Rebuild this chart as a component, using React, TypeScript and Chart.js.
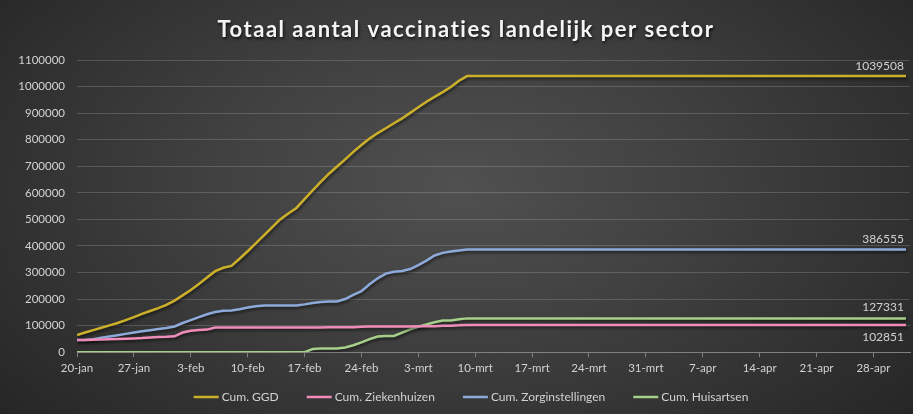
import React, { useEffect, useRef } from 'react';
import { Chart, registerables } from 'chart.js';

Chart.register(...registerables);

const chartTitle = 'Totaal aantal vaccinaties landelijk per sector';

// Week tick labels (one every 7 days, starting 20-jan)
const weekLabels = ['20-jan', '27-jan', '3-feb', '10-feb', '17-feb', '24-feb', '3-mrt', '10-mrt', '17-mrt', '24-mrt', '31-mrt', '7-apr', '14-apr', '21-apr', '28-apr'];

const seriesNames = ['Cum. GGD', 'Cum. Ziekenhuizen', 'Cum. Zorginstellingen', 'Cum. Huisartsen'];

// Daily cumulative values, day 0 = 20-jan ... day 102 = 2-mei
const ggd = [
  65000, 74000, 83000, 92000, 101000, 110000, 121000, 132000, 144000, 155000,
  166000, 178000, 194000, 214000, 234000, 257000, 281000, 305000, 318000, 325000,
  352000, 380000, 410000, 440000, 470000, 500000, 522000, 543000, 576000, 609000,
  641000, 672000, 699000, 726000, 754000, 780000, 804000, 825000, 843000, 862000,
  880000, 901000, 922000, 943000, 961000, 979000, 998000, 1022000, 1039508,
  1039508, 1039508, 1039508, 1039508, 1039508, 1039508, 1039508, 1039508, 1039508,
  1039508, 1039508, 1039508, 1039508, 1039508, 1039508, 1039508, 1039508, 1039508,
  1039508, 1039508, 1039508, 1039508, 1039508, 1039508, 1039508, 1039508, 1039508,
  1039508, 1039508, 1039508, 1039508, 1039508, 1039508, 1039508, 1039508, 1039508,
  1039508, 1039508, 1039508, 1039508, 1039508, 1039508, 1039508, 1039508, 1039508,
  1039508, 1039508, 1039508, 1039508, 1039508, 1039508, 1039508, 1039508, 1039508,
];

const ziekenhuizen = [
  46000, 46000, 47000, 48000, 49000, 50000, 51000, 52000, 53000, 55000,
  57000, 58000, 60000, 74000, 81000, 84000, 85000, 93000, 93000, 93000,
  93000, 93000, 93000, 93000, 93000, 93000, 93000, 93000, 93000, 93000,
  93000, 94000, 94000, 94000, 94000, 96000, 97000, 97000, 97000, 97000,
  97000, 97000, 98000, 98000, 98000, 100000, 100000, 101000, 102851,
  102851, 102851, 102851, 102851, 102851, 102851, 102851, 102851, 102851,
  102851, 102851, 102851, 102851, 102851, 102851, 102851, 102851, 102851,
  102851, 102851, 102851, 102851, 102851, 102851, 102851, 102851, 102851,
  102851, 102851, 102851, 102851, 102851, 102851, 102851, 102851, 102851,
  102851, 102851, 102851, 102851, 102851, 102851, 102851, 102851, 102851,
  102851, 102851, 102851, 102851, 102851, 102851, 102851, 102851, 102851,
];

const zorginstellingen = [
  46000, 46000, 49000, 54000, 59000, 64000, 69000, 74000, 79000, 83000,
  87000, 91000, 97000, 110000, 121000, 132000, 143000, 151000, 156000, 157000,
  162000, 168000, 173000, 176000, 176000, 176000, 176000, 176000, 180000, 185000,
  189000, 191000, 191000, 200000, 216000, 230000, 256000, 278000, 296000, 303000,
  306000, 313000, 328000, 345000, 364000, 374000, 379000, 383000, 386555,
  386555, 386555, 386555, 386555, 386555, 386555, 386555, 386555, 386555,
  386555, 386555, 386555, 386555, 386555, 386555, 386555, 386555, 386555,
  386555, 386555, 386555, 386555, 386555, 386555, 386555, 386555, 386555,
  386555, 386555, 386555, 386555, 386555, 386555, 386555, 386555, 386555,
  386555, 386555, 386555, 386555, 386555, 386555, 386555, 386555, 386555,
  386555, 386555, 386555, 386555, 386555, 386555, 386555, 386555, 386555,
];

const huisartsen = [
  0, 0, 0, 0, 0, 0, 0, 0, 0, 0,
  0, 0, 0, 0, 0, 0, 0, 0, 0, 0,
  0, 0, 0, 0, 0, 0, 0, 0, 0, 12000,
  14000, 14000, 14000, 18000, 26000, 37000, 49000, 59000, 61000, 61000,
  74000, 86000, 96000, 104000, 113000, 119000, 119000, 124000, 127331,
  127331, 127331, 127331, 127331, 127331, 127331, 127331, 127331, 127331,
  127331, 127331, 127331, 127331, 127331, 127331, 127331, 127331, 127331,
  127331, 127331, 127331, 127331, 127331, 127331, 127331, 127331, 127331,
  127331, 127331, 127331, 127331, 127331, 127331, 127331, 127331, 127331,
  127331, 127331, 127331, 127331, 127331, 127331, 127331, 127331, 127331,
  127331, 127331, 127331, 127331, 127331, 127331, 127331, 127331, 127331,
];

const seriesValues = [ggd, ziekenhuizen, zorginstellingen, huisartsen];
const seriesColors = ['#cdb02a', '#f08cba', '#8eaadb', '#a6cf8a'];
const endLabelOffsets = [-10, 12, -10, -11];

const FONT = 'Lato, "Open Sans", sans-serif';
const TEXT = '#d2d2d2';

const overlayPlugin = {
  id: 'overlay',
  beforeDatasetsDraw(chart: any) {
    const ctx = chart.ctx;
    ctx.save();
    ctx.shadowColor = 'rgba(0,0,0,0.55)';
    ctx.shadowBlur = 3;
    ctx.shadowOffsetX = 1;
    ctx.shadowOffsetY = 2;
  },
  afterDatasetsDraw(chart: any) {
    const ctx = chart.ctx;
    ctx.restore();
    ctx.save();
    ctx.font = `12px ${FONT}`;
    ctx.fillStyle = TEXT;
    ctx.textAlign = 'right';
    ctx.textBaseline = 'middle';
    chart.data.datasets.forEach((ds: any, i: number) => {
      const meta = chart.getDatasetMeta(i);
      const pt = meta.data[meta.data.length - 1];
      if (!pt) return;
      const vals = seriesValues[i];
      ctx.fillText(String(vals[vals.length - 1]), pt.x - 2, pt.y + endLabelOffsets[i]);
    });
    ctx.restore();
  },
  afterDraw(chart: any) {
    const ctx = chart.ctx;
    // Title
    ctx.save();
    ctx.font = `bold 22px ${FONT}`;
    (ctx as any).letterSpacing = '1.5px';
    ctx.fillStyle = '#f4f4f4';
    ctx.textAlign = 'center';
    ctx.textBaseline = 'middle';
    ctx.shadowColor = 'rgba(0,0,0,0.7)';
    ctx.shadowBlur = 3;
    ctx.shadowOffsetX = 1;
    ctx.shadowOffsetY = 2;
    ctx.fillText(chartTitle, 466, 30);
    ctx.restore();

    // Legend
    ctx.save();
    ctx.font = `12px ${FONT}`;
    ctx.textBaseline = 'middle';
    ctx.textAlign = 'left';
    const swatch = 25;
    const gap = 3;
    const spacing = 28;
    const widths = seriesNames.map((n) => swatch + gap + ctx.measureText(n).width);
    const total = widths.reduce((a, b) => a + b, 0) + spacing * (seriesNames.length - 1);
    let x = 471 - total / 2;
    const y = 397;
    seriesNames.forEach((n, i) => {
      ctx.strokeStyle = seriesColors[i];
      ctx.lineWidth = 2.5;
      ctx.beginPath();
      ctx.moveTo(x, y);
      ctx.lineTo(x + swatch, y);
      ctx.stroke();
      ctx.fillStyle = TEXT;
      ctx.fillText(n, x + swatch + gap, y);
      x += widths[i] + spacing;
    });
    ctx.restore();
  },
};

export default function App() {
  const ref = useRef<HTMLCanvasElement | null>(null);

  useEffect(() => {
    if (!ref.current) return;
    const chart = new Chart(ref.current, {
      type: 'line',
      data: {
        datasets: seriesNames.map((name, i) => ({
          label: name,
          data: seriesValues[i].map((v, d) => ({ x: d, y: v })),
          borderColor: seriesColors[i],
          backgroundColor: seriesColors[i],
          borderWidth: 2.5,
          pointRadius: 0,
          tension: 0,
          fill: false,
        })),
      },
      options: {
        animation: false,
        responsive: false,
        maintainAspectRatio: false,
        layout: { padding: { left: 0, right: 3, top: 60, bottom: 35 } },
        plugins: {
          title: { display: false },
          legend: { display: false },
          tooltip: { enabled: false },
        },
        scales: {
          x: {
            type: 'linear',
            min: 0,
            max: 102.5,
            grid: { display: true, drawOnChartArea: false, drawTicks: true, tickLength: 5, color: '#808080' },
            border: { display: true, color: '#808080' },
            ticks: {
              stepSize: 7,
              includeBounds: false,
              autoSkip: false,
              maxRotation: 0,
              padding: 4,
              color: TEXT,
              font: { family: FONT, size: 11.5 },
              callback: (v: any) => weekLabels[Math.round(Number(v) / 7)] ?? '',
            },
          },
          y: {
            min: 0,
            max: 1100000,
            grid: { color: 'rgba(255,255,255,0.17)', drawTicks: false },
            border: { display: false },
            ticks: {
              stepSize: 100000,
              padding: 12,
              color: TEXT,
              font: { family: FONT, size: 11.5 },
              callback: (v: any) => String(v),
            },
            afterFit: (s: any) => { s.width = 77; },
          },
        },
      },
      plugins: [overlayPlugin],
    } as any);
    return () => chart.destroy();
  }, []);

  return (
    <div
      style={{
        position: 'fixed',
        left: 0,
        top: 0,
        width: 913,
        height: 414,
        background: 'radial-gradient(ellipse 65% 85% at 50% 45%, #505050 0%, #414141 40%, #262626 100%)',
      }}
    >
      <canvas ref={ref} width={913} height={414} style={{ width: 913, height: 414, display: 'block' }} />
    </div>
  );
}
